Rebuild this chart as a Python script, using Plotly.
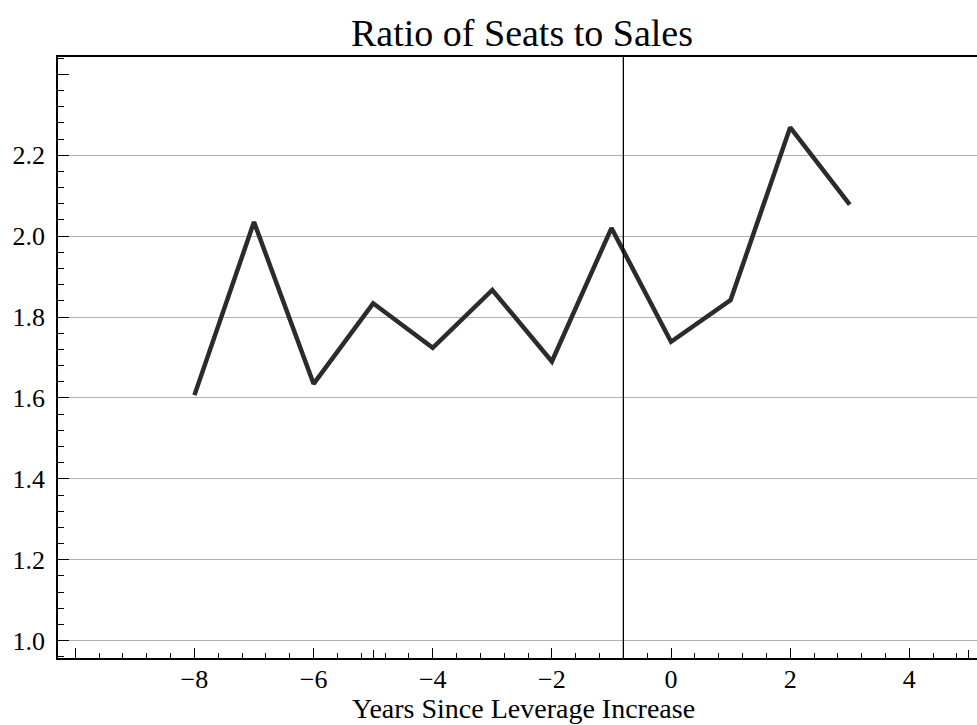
import plotly.graph_objects as go

# ---- data ----
years = [-8, -7, -6, -5, -4, -3, -2, -1, 0, 1, 2, 3]
ratio = [1.607, 2.035, 1.635, 1.834, 1.724, 1.867, 1.690, 2.020, 1.739, 1.842, 2.269, 2.078]
event_x = -0.8

x_tickvals = [-10, -8, -6, -4, -2, 0, 2, 4]
x_ticktext = ["", "\u22128", "\u22126", "\u22124", "\u22122", "0", "2", "4"]
x_extra_ticks = [-5, 5]
y_tickvals = [1.0, 1.2, 1.4, 1.6, 1.8, 2.0, 2.2]
y_ticktext = ["1.0", "1.2", "1.4", "1.6", "1.8", "2.0", "2.2"]
y_extra_ticks = [2.4]
x_title = "Years Since Leverage Increase"

XR = [-10.29, 5.136]
YR = [0.957, 2.443]
FONT = "Liberation Serif, Times New Roman, serif"

fig = go.Figure()
fig.add_trace(go.Scatter(
    x=years, y=ratio, mode="lines",
    line=dict(color="#2b2b2b", width=4.5),
    showlegend=False, hoverinfo="skip",
))
fig.add_vline(x=event_x, line=dict(color="black", width=1.3), layer="above")

fig.update_layout(
    width=977, height=725,
    margin=dict(l=58, r=0, t=57, b=67),
    paper_bgcolor="white", plot_bgcolor="white",
    font=dict(family=FONT, color="black", size=26),
    title=dict(text="Ratio of Seats to Sales", xref="paper", x=(522 - 58) / 919, xanchor="center",
               y=1 - 33 / 725, yanchor="middle",
               font=dict(family=FONT, size=38, color="black")),
    xaxis=dict(
        range=XR, showgrid=False, zeroline=False,
        showline=True, linecolor="black", linewidth=1.5, mirror=True,
        tickmode="array", tickvals=x_tickvals, ticktext=x_ticktext,
        ticks="inside", ticklen=10, tickwidth=1.2, tickcolor="black",
        minor=dict(dtick=0.4, tick0=0, ticks="inside", ticklen=5, tickwidth=1, tickcolor="black", showgrid=False),
        tickfont=dict(size=26), ticklabelstandoff=-3,
    ),
    xaxis2=dict(
        range=XR, overlaying="x", side="bottom", showgrid=False, zeroline=False,
        showline=False, tickmode="array", tickvals=x_extra_ticks, showticklabels=False,
        ticks="inside", ticklen=8, tickwidth=1.2, tickcolor="black",
    ),
    yaxis=dict(
        range=YR, showgrid=True, gridcolor="#b0b0b0", gridwidth=1, zeroline=False,
        showline=True, linecolor="black", linewidth=1.5,
        tickmode="array", tickvals=y_tickvals, ticktext=y_ticktext,
        ticks="inside", ticklen=11, tickwidth=1.2, tickcolor="black",
        minor=dict(dtick=0.04, tick0=0, ticks="inside", ticklen=6, tickwidth=1, tickcolor="black", showgrid=False),
        tickfont=dict(size=26), ticklabelstandoff=6,
    ),
    yaxis2=dict(
        range=YR, overlaying="y", side="left", showgrid=False, zeroline=False,
        showline=False, tickmode="array", tickvals=y_extra_ticks, showticklabels=False,
        ticks="inside", ticklen=11, tickwidth=1.2, tickcolor="black",
    ),
)
fig.add_annotation(
    text=x_title, xref="paper", yref="paper", x=(523 - 58) / 919, y=-50 / 601,
    xanchor="center", yanchor="middle", showarrow=False,
    font=dict(family=FONT, size=28, color="black"),
)
# invisible trace to activate secondary axes
fig.add_trace(go.Scatter(x=[None], y=[None], xaxis="x2", yaxis="y2", showlegend=False, hoverinfo="skip"))

fig.write_html("out.html")
